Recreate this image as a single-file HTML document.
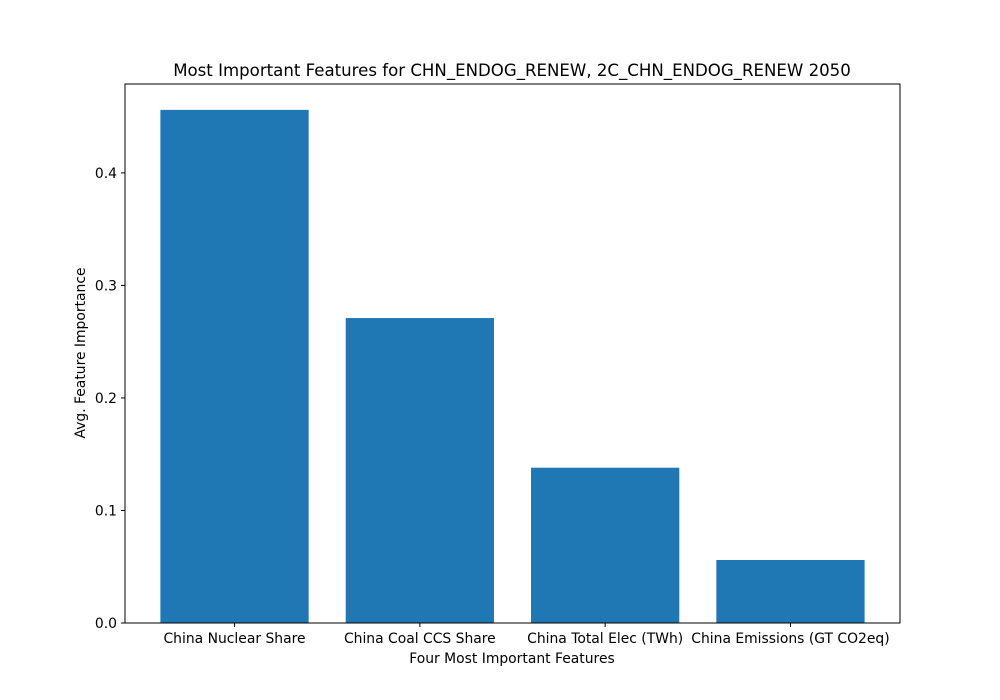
<!DOCTYPE html>
<html><head><meta charset="utf-8"><style>
body{margin:0;background:#fff;}
svg{display:block;font-family:"DejaVu Sans","Liberation Sans",sans-serif;}
</style></head><body>
<svg id="chart" width="1000" height="700" viewBox="0 0 1000 700">
<rect width="1000" height="700" fill="#fff"/>
<text x="512" y="76" font-size="16.6" text-anchor="middle">Most Important Features for CHN_ENDOG_RENEW, 2C_CHN_ENDOG_RENEW 2050</text>
<g id="bars"></g>
<g id="yticks"></g>
<g id="xticks"></g>
<rect x="125" y="84" width="775" height="539" fill="none" stroke="#000" stroke-width="1"/>
<text x="512" y="663" font-size="13.9" text-anchor="middle">Four Most Important Features</text>
<text x="85" y="353" font-size="13.9" text-anchor="middle" transform="rotate(-90 85 353)">Avg. Feature Importance</text>
</svg>
<script>
const categories = ["China Nuclear Share","China Coal CCS Share","China Total Elec (TWh)","China Emissions (GT CO2eq)"];
const values = [0.456, 0.271, 0.138, 0.056];
const yTicks = [0.0, 0.1, 0.2, 0.3, 0.4];
const yTickLabels = ["0.0","0.1","0.2","0.3","0.4"];

const L=125,R=900,T=84,B=623;
const xMin=-0.591,xMax=3.591,yMin=0,yMax=0.479;
function xs(v){return L+(v-xMin)/(xMax-xMin)*(R-L);}
function ys(v){return B-(v-yMin)/(yMax-yMin)*(B-T);}
const NS="http://www.w3.org/2000/svg";
function mk(t,a,p){const e=document.createElementNS(NS,t);for(const k in a)e.setAttribute(k,a[k]);p.appendChild(e);return e;}
const gb=document.getElementById('bars'),gy=document.getElementById('yticks'),gx=document.getElementById('xticks');
values.forEach((v,i)=>{
  const x0=xs(i-0.4),x1=xs(i+0.4);
  const r=mk('rect',{x:x0,y:ys(v),width:x1-x0,height:ys(0)-ys(v),fill:'#1f77b4'},gb);
  
  
  const tk=mk('line',{x1:xs(i),x2:xs(i),y1:B,y2:B+4,stroke:'#000'},gx);
  
  
  const t=mk('text',{x:xs(i),y:B+20,'font-size':13.9,'text-anchor':'middle'},gx);
  t.textContent=categories[i];
  
  
});
yTicks.forEach((v,i)=>{
  const tk=mk('line',{x1:L-4,x2:L,y1:ys(v),y2:ys(v),stroke:'#000'},gy);
  
  
  const t=mk('text',{x:L-8,y:ys(v)+5,'font-size':13.9,'text-anchor':'end'},gy);
  t.textContent=yTickLabels[i];
  
  
});
</script>
</body></html>
